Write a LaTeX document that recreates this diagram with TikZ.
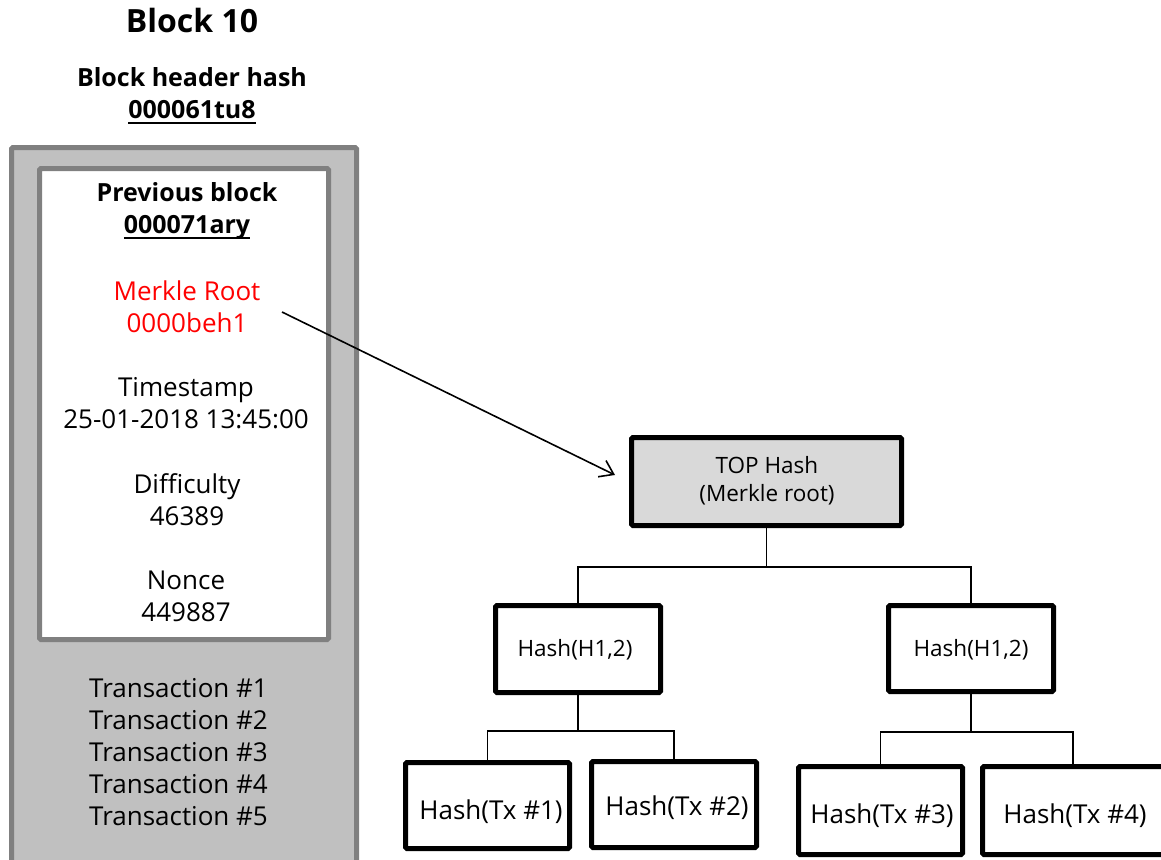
\documentclass[tikz,border=0pt]{standalone}
\usepackage{fontspec}
\setmainfont{Open Sans}
\newcommand\thickul[1]{\setbox0\hbox{#1}\leavevmode\rlap{\raisebox{-5.5pt}{\rule{\wd0}{1.8pt}}}\box0}
\usetikzlibrary{arrows.meta}
\definecolor{frameg}{HTML}{808080}
\definecolor{blockg}{HTML}{C0C0C0}
\definecolor{topg}{HTML}{D9D9D9}
\definecolor{mred}{HTML}{FF0000}
\tikzset{
  hbox/.style={draw=black, line width=5pt, rounded corners=1.5pt, fill=white, inner sep=0pt},
  txt/.style={inner sep=0pt, align=center, font=\fontsize{26}{31.8}\selectfont},
  boldtxt/.style={inner sep=0pt, align=center, font=\fontsize{25}{32}\selectfont\bfseries},
  smalltxt/.style={inner sep=0pt, align=center, font=\fontsize{22.5}{28}\selectfont},
  conn/.style={draw=black, line width=1.8pt},
}
\begin{document}
\begin{tikzpicture}[x=1pt,y=-1pt]
\useasboundingbox (0,0) rectangle (1161,859);
\clip (0,0) rectangle (1161,859);
\fill[white] (0,0) rectangle (1161,859);

% block
\draw[line width=5pt, draw=frameg, fill=blockg, rounded corners=1.5pt] (11.5,147.5) rectangle (356.5,900);
\draw[line width=5pt, draw=frameg, fill=white, rounded corners=1.5pt] (39.5,168.5) rectangle (328.5,639.5);

\node[inner sep=0pt, font=\fontsize{32}{36}\selectfont\bfseries] (title) at (192,21) {Block 10};
\node[boldtxt] (hdr) at (192,96) {Block header hash\\\thickul{000061tu8}};
\node[boldtxt] (prev) at (187,211) {Previous block\\\thickul{000071ary}};
\node[txt, text=mred] (mrk) at (187,307) {Merkle Root\\0000beh1};
\node[txt] (time) at (186,403) {Timestamp\\25-01-2018 13:45:00};
\node[txt] (diff) at (187,500) {Difficulty\\46389};
\node[txt] (nonce) at (186,596) {Nonce\\449887};
\node[txt] (trans) at (178.5,752) {Transaction \#1\\Transaction \#2\\Transaction \#3\\Transaction \#4\\Transaction \#5};

% tree
\node[hbox, fill=topg, minimum width=270pt, minimum height=88pt] (top) at (766.5,481.5) {};
\node[smalltxt] (toptxt) at (767,481) {TOP Hash\\(Merkle root)};
\node[hbox, minimum width=165pt, minimum height=87pt] (hl) at (578,649) {};
\node[smalltxt] (hltxt) at (575,650) {Hash(H1,2)};
\node[hbox, minimum width=165pt, minimum height=86pt] (hr) at (971,648.5) {};
\node[smalltxt] (hrtxt) at (971,650) {Hash(H1,2)};
\node[hbox, minimum width=164pt, minimum height=86pt] (t1) at (487.5,805.5) {};
\node[txt] (t1txt) at (491,812) {Hash(Tx \#1)};
\node[hbox, minimum width=165pt, minimum height=86pt] (t2) at (674,804.5) {};
\node[txt] (t2txt) at (677,808) {Hash(Tx \#2)};
\node[hbox, minimum width=164pt, minimum height=88pt] (t3) at (880.5,810.5) {};
\node[txt] (t3txt) at (882,816) {Hash(Tx \#3)};
\node[hbox, minimum width=181pt, minimum height=88pt] (t4) at (1073,810.5) {};
\node[txt] (t4txt) at (1075,816) {Hash(Tx \#4)};

\draw[conn] (top.south) -- ++(0,39) -| (hl.north);
\draw[conn] (top.south) -- ++(0,39) -| (hr.north);
\draw[conn] (hl.south) -- ++(0,36) -| (t1.north);
\draw[conn] (hl.south) -- ++(0,36) -| (t2.north);
\draw[conn] (hr.south) -- ++(0,38) -| (t3.north);
\draw[conn] (hr.south) -- ++(0,38) -| (t4.north);

\coordinate (arrstart) at (282,312);
\coordinate (arrend) at (615,475);
\draw[line width=1.6pt, -{Straight Barb[length=13pt,width=18pt,line width=1.6pt]}] (arrstart) -- (arrend);
\end{tikzpicture}
\end{document}
